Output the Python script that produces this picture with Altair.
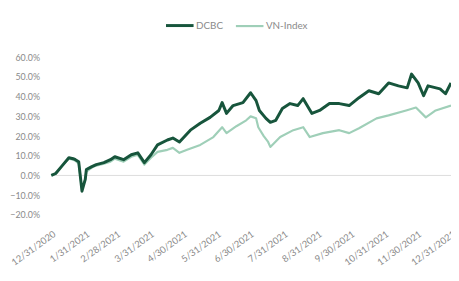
import altair as alt
import pandas as pd

start_date = "2020-12-31"
series_names = ["VN-Index", "DCBC"]
series_colors = ["#9fcfb8", "#17553c"]
series_widths = [2.2, 3.0]

dcbc_days = [0, 4, 10, 16, 20, 22, 25, 28, 31, 32, 37, 41, 48, 54, 58, 66, 73, 79, 85, 91,
             97, 106, 111, 117, 127, 136, 145, 153, 156, 160, 166, 175, 182, 187, 190, 196,
             200, 205, 211, 218, 225, 230, 238, 245, 254, 263, 272, 281, 290, 299, 308, 317,
             325, 329, 335, 340, 344, 355, 360, 365]
dcbc_vals = [0, 1, 5, 9, 8.5, 8, 7, -8, -2, 3, 4.5, 5.5, 6.5, 8, 9.5, 8, 10.5, 11.5, 6.5, 10.5,
             15.5, 18, 19, 17, 23, 26.5, 29.5, 33, 37, 31.5, 35.5, 37, 42, 38, 33, 29,
             27, 28, 34, 36.5, 35.5, 39, 31.5, 33, 36.5, 36.5, 35.5, 39.5, 43, 41.5, 47, 45.5,
             44.5, 51.5, 47, 40.5, 45.5, 44, 41.5, 47]

vn_days = [0, 4, 10, 16, 20, 22, 25, 28, 31, 32, 37, 41, 48, 54, 58, 66, 73, 79, 85, 91,
           97, 106, 111, 117, 124, 136, 148, 156, 160, 169, 178, 182, 187, 189, 194, 198,
           200, 209, 221, 230, 236, 248, 263, 272, 281, 297, 308, 324, 333, 342, 351, 365]
vn_vals = [0, 1, 5, 8.5, 8, 7.5, 6, -7, -2, 2, 4, 5, 6, 7, 8.5, 7, 9.5, 10.5, 5.5, 9,
           12, 13, 14, 11.5, 13, 15.5, 19.5, 24.5, 21.5, 25, 28, 30, 29, 24.5, 20, 17,
           14.5, 19.5, 23, 24.5, 19.5, 21.5, 23, 21.5, 24, 29, 30.5, 33, 34.5, 29.5, 33, 35.5]

tick_dates = [(2020, 12, 31), (2021, 1, 31), (2021, 2, 28), (2021, 3, 31), (2021, 4, 30),
              (2021, 5, 31), (2021, 6, 30), (2021, 7, 31), (2021, 8, 31), (2021, 9, 30),
              (2021, 10, 31), (2021, 11, 30), (2021, 12, 31)]
y_ticks = [-0.2, -0.1, 0.0, 0.1, 0.2, 0.3, 0.4, 0.5, 0.6]

base = pd.Timestamp(start_date)
rows = []
for name, days, vals in [("VN-Index", vn_days, vn_vals), ("DCBC", dcbc_days, dcbc_vals)]:
    for d, v in zip(days, vals):
        rows.append({"date": (base + pd.Timedelta(days=d)).strftime("%Y-%m-%d"),
                     "value": v / 100.0, "series": name})
df = pd.DataFrame(rows)

FONT = "Lato"
GRAY = "#8a8a8a"

tick_vals = [alt.DateTime(year=y, month=m, date=d, utc=True) for (y, m, d) in tick_dates]

legend = alt.Legend(title=None, orient="none", legendX=115, legendY=-48, direction="horizontal",
                    symbolType="stroke", symbolSize=784, labelFont=FONT, labelFontSize=10,
                    labelColor=GRAY, labelOffset=1, columnPadding=8)

y_axis = alt.Axis(values=y_ticks, format=".1%", labelFont=FONT, labelFontSize=9,
                  labelColor=GRAY, domain=False, ticks=False, grid=False,
                  labelOverlap=False, labelBound=False,
                  title=None, labelPadding=12)
y_scale = alt.Scale(domain=[-0.2, 0.6], nice=False)

lines = alt.Chart(df).mark_line(strokeJoin="round").encode(
    x=alt.X("date:T",
            scale=alt.Scale(type="utc", domain=[tick_vals[0], tick_vals[-1]], nice=False),
            axis=alt.Axis(values=tick_vals,
                          labelExpr="utcFormat(datum.value, '%-m/%-d/%Y')",
                          labelAngle=-36, labelFont=FONT, labelFontSize=9.5, labelColor=GRAY,
                          domain=False, ticks=False, grid=False, labelPadding=14,
                          title=None, labelOverlap=False, labelBound=False)),
    y=alt.Y("value:Q", scale=y_scale, axis=y_axis),
    color=alt.Color("series:N", scale=alt.Scale(domain=series_names[::-1], range=series_colors[::-1]),
                    legend=legend),
    strokeWidth=alt.StrokeWidth("series:N", scale=alt.Scale(domain=series_names[::-1], range=series_widths[::-1]),
                                legend=legend),
    detail="series:N",
)

zero = alt.Chart(pd.DataFrame({"value": [0.0]})).mark_rule(color="#dcdcdc", strokeWidth=1).encode(
    y=alt.Y("value:Q", scale=y_scale, axis=y_axis)
)

chart = alt.layer(zero, lines).properties(
    width=406, height=160,
    background="white",
    autosize=alt.AutoSizeParams(type="none"),
    padding={"left": 44, "top": 48, "right": 0, "bottom": 57},
).configure_view(stroke=None)

chart.save("out.html", embed_options={"renderer": "svg", "actions": False})
